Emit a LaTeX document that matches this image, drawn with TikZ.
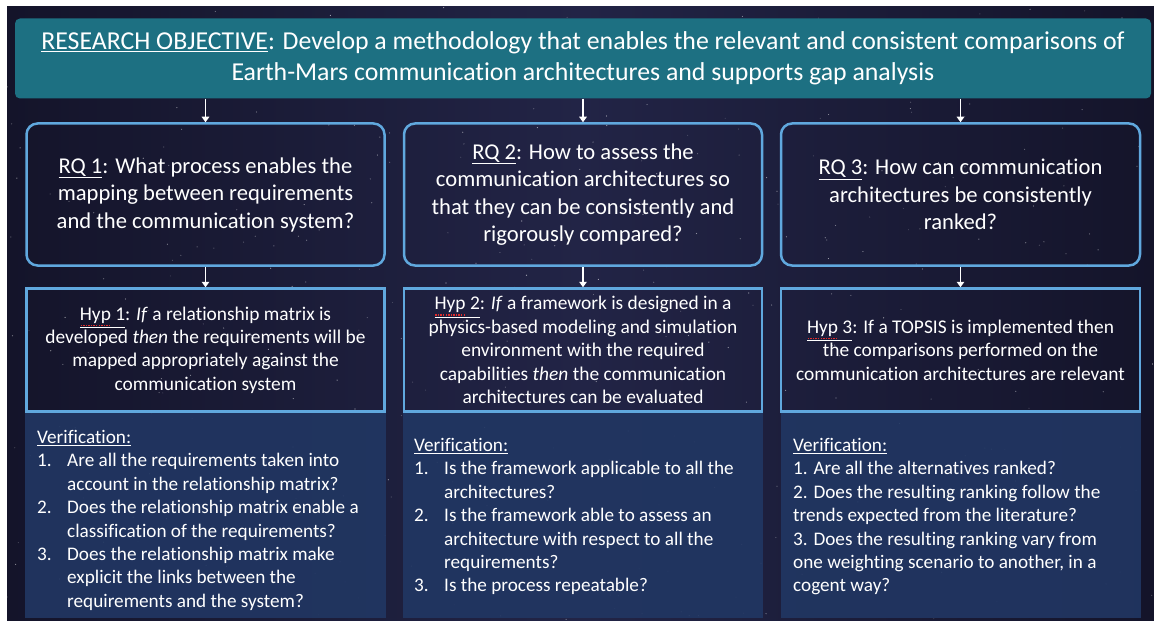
\documentclass[tikz,border=0pt]{standalone}
\usepackage{fontspec}
\setmainfont{Carlito}[Ligatures={NoCommon,NoRequired,NoContextual}]
\usetikzlibrary{arrows.meta,calc}
\definecolor{bgdark}{RGB}{20,20,42}
\definecolor{bgmid}{RGB}{34,36,70}
\definecolor{teal}{RGB}{29,112,130}
\definecolor{edgeblue}{RGB}{96,168,222}
\definecolor{verfill}{RGB}{33,54,98}
\definecolor{spellred}{RGB}{225,45,45}
\tikzset{
  rqbox/.style={draw=edgeblue, line width=2.5pt, rounded corners=11pt, text=white, align=center,
    font=\fontsize{22.6}{27.5}\selectfont, inner sep=0pt},
  hypbox/.style={draw=edgeblue, line width=2.5pt, text=white, align=center,
    font=\fontsize{19.4}{23.4}\selectfont, inner sep=0pt},
  verbox/.style={fill=verfill, fill opacity=0.92, draw=none, inner sep=0pt},
  vertext/.style={text=white, align=left, font=\fontsize{19.2}{23.4}\selectfont, inner sep=0pt, anchor=north west},
  objbox/.style={fill=teal, rounded corners=5pt, text=white, align=center,
    font=\fontsize{25.8}{31}\selectfont, inner sep=0pt},
  flow/.style={white, line width=1.6pt, -{Triangle[width=7.5pt,length=5.5pt]}}
}
\newcommand{\num}[1]{\makebox[30pt][l]{#1}}
\newcommand{\ind}{\hspace*{30pt}}
\newsavebox\spbox
\newcommand{\spell}[1]{\sbox\spbox{#1}\rlap{\raisebox{-6pt}{\color{spellred}\hbox to\wd\spbox{\xleaders\hbox to 2.4pt{\hss\rule{1.4pt}{1.4pt}\hss}\hfill}}}#1}
\begin{document}
\begin{tikzpicture}[x=1pt,y=-1pt]
\useasboundingbox (0,0) rectangle (1154,623);
% background
\shade[left color=bgdark, right color=bgdark, middle color=bgmid] (7,7) rectangle (1154,620);
\pgfmathsetseed{7}
\foreach \i in {1,...,420}{
  \pgfmathsetmacro\sx{7+1147*rnd}
  \pgfmathsetmacro\sy{7+613*rnd}
  \pgfmathsetmacro\so{0.15+0.5*rnd}
  \fill[white, opacity=\so] (\sx,\sy) circle (0.6pt);
}
% objective
\node[objbox, minimum width=1136pt, minimum height=80pt] (obj) at (583,58.5)
  {\underline{RESEARCH OBJECTIVE}: Develop a methodology that enables the relevant and consistent comparisons of\\
   Earth-Mars communication architectures and supports gap analysis};
% research questions
\node[rqbox, minimum width=358pt, minimum height=142pt] (rq1) at (205.5,194.5)
  {\underline{RQ 1}: What process enables the\\ mapping between requirements\\ and the communication system?};
\node[rqbox, minimum width=358pt, minimum height=142pt] (rq2) at (583,194.5)
  {\underline{RQ 2}: How to assess the\\ communication architectures so\\ that they can be consistently and\\ rigorously compared?};
\node[rqbox, minimum width=359pt, minimum height=142pt] (rq3) at (960.5,194.5)
  {\underline{RQ 3}: How can communication\\ architectures be consistently\\ ranked?};
% hypotheses
\node[hypbox, minimum width=358pt, minimum height=123pt] (h1) at (205.5,350)
  {\underline{\spell{Hyp} 1}: \textit{If} a relationship matrix is\\ developed \textit{then} the requirements will be\\ mapped appropriately against the\\ communication system};
\node[hypbox, minimum width=358pt, minimum height=123pt] (h2) at (583,350)
  {\underline{\spell{Hyp} 2}: \textit{If} a framework is designed in a\\ physics-based modeling and simulation\\ environment with the required\\ capabilities \textit{then} the communication\\ architectures can be evaluated};
\node[hypbox, minimum width=359pt, minimum height=123pt] (h3) at (960.5,350)
  {\underline{\spell{Hyp} 3}: If a TOPSIS is implemented then\\ the comparisons performed on the\\ communication architectures are relevant};
% verification boxes
\node[verbox, minimum width=361pt, minimum height=205pt] (v1) at (205.5,515.5) {};
\node[verbox, minimum width=360pt, minimum height=205pt] (v2) at (583,515.5) {};
\node[verbox, minimum width=360pt, minimum height=205pt] (v3) at (960.5,515.5) {};
\node[vertext] (t1) at (37,430)
  {\underline{Verification:}\\
   \num{1.}Are all the requirements taken into\\
   \ind account in the relationship matrix?\\
   \num{2.}Does the relationship matrix enable a\\
   \ind classification of the requirements?\\
   \num{3.}Does the relationship matrix make\\
   \ind explicit the links between the\\
   \ind requirements and the system?};
\node[vertext] (t2) at (414,438)
  {\underline{Verification:}\\
   \num{1.}Is the framework applicable to all the\\
   \ind architectures?\\
   \num{2.}Is the framework able to assess an\\
   \ind architecture with respect to all the\\
   \ind requirements?\\
   \num{3.}Is the process repeatable?};
\node[vertext] (t3) at (793,438)
  {\underline{Verification:}\\
   1. Are all the alternatives ranked?\\
   2. Does the resulting ranking follow the\\
   trends expected from the literature?\\
   3. Does the resulting ranking vary from\\
   one weighting scenario to another, in a\\
   cogent way?};
% arrows
\foreach \q/\h in {rq1/h1, rq2/h2, rq3/h3}{
  \draw[flow] (\q.north |- obj.south) -- (\q.north);
  \draw[flow] (\q.south) -- (\h.north);
}
\end{tikzpicture}
\end{document}
